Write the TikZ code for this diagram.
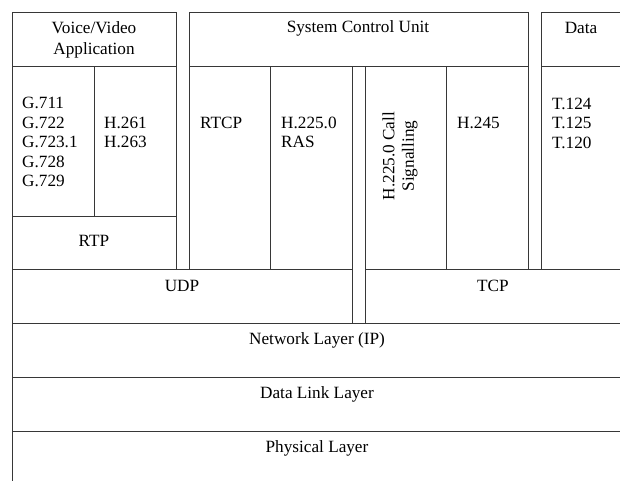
\documentclass[tikz,border=0pt]{standalone}
\usepackage{fontspec}
\setmainfont{Liberation Serif}
\begin{document}
\begin{tikzpicture}[x=1pt,y=-1pt,
  frame/.style={draw={rgb,255:red,55;green,55;blue,55},line width=0.9pt},
  lbl/.style={inner sep=0pt,font=\fontsize{17.2}{19.5}\selectfont},
  lblL/.style={lbl,anchor=west,align=left},
  lblC/.style={lbl,align=center}]
\useasboundingbox (0,0) rectangle (620,480);
% Voice/Video application box
\draw[frame] (12,269) -- (12,12) -- (176,12) -- (176,269);
\draw[frame] (12,66) -- (176,66);
\draw[frame] (94,66) -- (94,216);
\draw[frame] (12,216) -- (176,216);
% System control unit box
\draw[frame] (189,269) -- (189,12) -- (528,12) -- (528,269);
\draw[frame] (189,66) -- (528,66);
\draw[frame] (270,66) -- (270,269);
\draw[frame] (352,66) -- (352,323);
\draw[frame] (365,66) -- (365,323);
\draw[frame] (446,66) -- (446,269);
% Data box
\draw[frame] (541,269) -- (541,12) -- (622,12);
\draw[frame] (541,66) -- (622,66);
% UDP / TCP row
\draw[frame] (12,269) -- (352,269);
\draw[frame] (365,269) -- (622,269);
% lower layers
\draw[frame] (12,269) -- (12,482);
\draw[frame] (12,323) -- (622,323);
\draw[frame] (12,377) -- (622,377);
\draw[frame] (12,431) -- (622,431);
% texts
\node[lblC,font=\fontsize{17.2}{21.5}\selectfont] (vva) at (94,40) {Voice/Video\\Application};
\node[lblC] (scu) at (358,28) {System Control Unit};
\node[lblC] (data) at (581,28) {Data};
\node[lblL] (gcod) at (22,142) {G.711\\G.722\\G.723.1\\G.728\\G.729};
\node[lblL] (hcod) at (104,132.5) {H.261\\H.263};
\node[lblL] (rtcp) at (200,123) {RTCP};
\node[lblL] (ras) at (281,132.5) {H.225.0\\RAS};
\node[lblC,rotate=90] (callsig) at (400,156) {H.225.0 Call\\Signalling};
\node[lblL] (h245) at (457,123) {H.245};
\node[lblL] (tdat) at (552,123) {T.124\\T.125\\T.120};
\node[lblC] (rtp) at (94,241) {RTP};
\node[lblC] (udp) at (182,286) {UDP};
\node[lblC] (tcp) at (493,286) {TCP};
\node[lblC] (net) at (317,340) {Network Layer (IP)};
\node[lblC] (dll) at (317,394) {Data Link Layer};
\node[lblC] (phy) at (317,448) {Physical Layer};
\end{tikzpicture}
\end{document}
